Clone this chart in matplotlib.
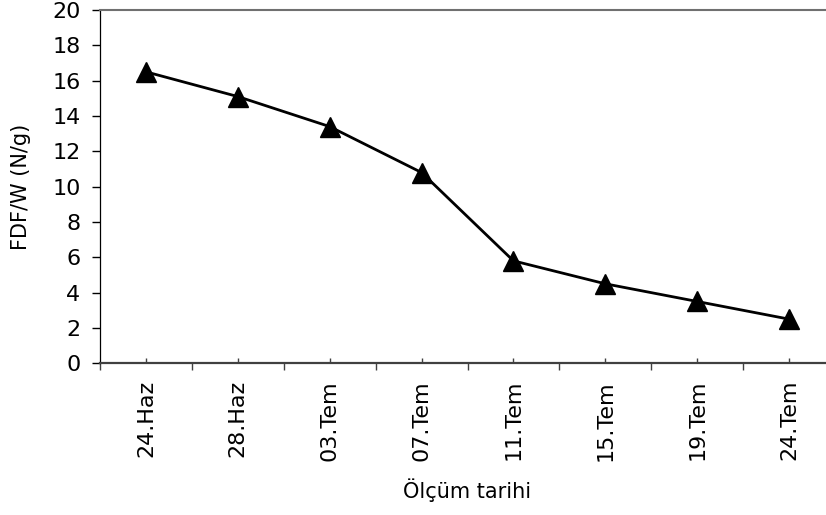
import matplotlib
matplotlib.use('Agg')
import matplotlib.pyplot as plt
import numpy as np

# measurement dates and FDF/W values
dates = ['24.Haz', '28.Haz', '03.Tem', '07.Tem', '11.Tem', '15.Tem', '19.Tem', '24.Tem']
fdf_w = [16.5, 15.1, 13.4, 10.8, 5.8, 4.5, 3.5, 2.5]
y_ticks = [0, 2, 4, 6, 8, 10, 12, 14, 16, 18, 20]

plt.rcParams['font.family'] = ['DejaVu Sans']

fig = plt.figure(figsize=(8.26, 5.15), dpi=100)
# plot area runs a bit past the right edge, like the cropped original
ax = fig.add_axes([100 / 826, (515 - 363.3) / 515, 735 / 826, 353.3 / 515])

x = np.arange(len(dates))
ax.plot(x, fdf_w, color='black', linewidth=2.0, marker='^', markersize=14.5,
        markerfacecolor='black', markeredgecolor='black', markeredgewidth=1)

ax.set_xlim(-0.5, len(dates) - 0.5)
ax.set_ylim(0, 20)

# category labels at centres (short inward ticks), boundaries get outward ticks
ax.set_xticks(x)
ax.set_xticklabels(dates, rotation=90, fontsize=16)
ax.set_xticks(np.arange(-0.5, len(dates)), minor=True)
ax.tick_params(axis='x', which='major', direction='in', length=3.6, width=1,
               color='#404040', pad=12)
ax.tick_params(axis='x', which='minor', direction='out', length=5.2, width=1,
               color='#404040')

ax.set_yticks(y_ticks)
ax.tick_params(axis='y', direction='out', length=6, width=1, color='black',
               pad=8, labelsize=16)

ax.spines['left'].set_color('black')
ax.spines['left'].set_linewidth(0.9)
ax.spines['bottom'].set_color('#404040')
ax.spines['bottom'].set_linewidth(1.6)
ax.spines['top'].set_color('#707070')
ax.spines['top'].set_linewidth(1.5)
ax.spines['right'].set_visible(False)

ax.set_xlabel('Ölçüm tarihi', fontsize=15, labelpad=13)
ax.set_ylabel('FDF/W (N/g)', fontsize=15, labelpad=15)

fig.savefig('out.png', dpi=100)
